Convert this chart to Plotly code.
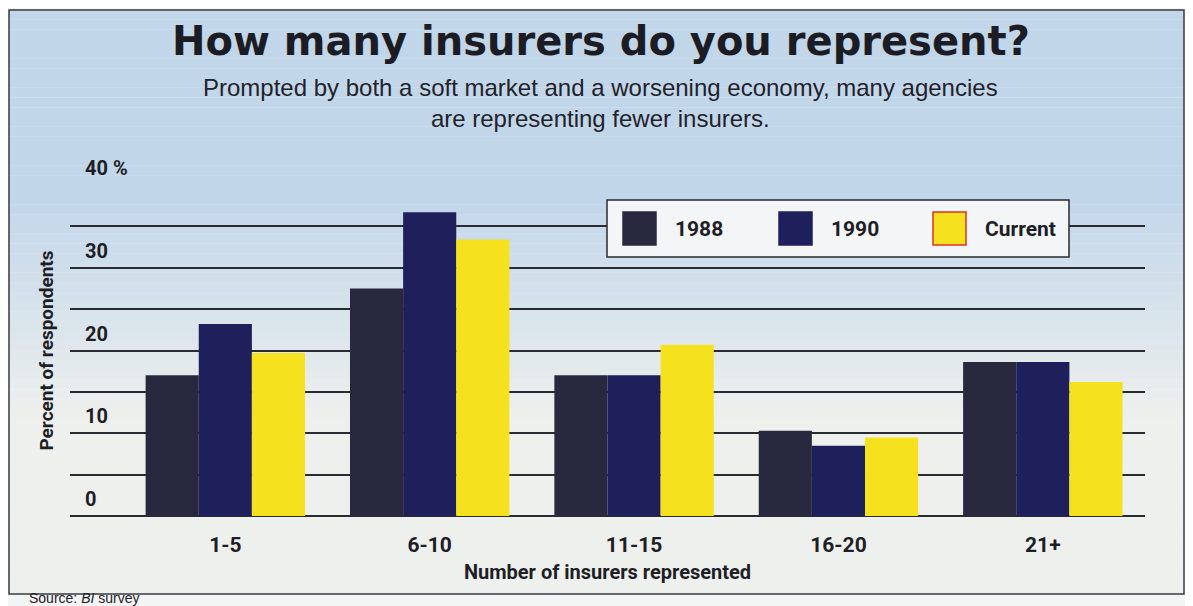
import plotly.graph_objects as go

categories = ["1-5", "6-10", "11-15", "16-20", "21+"]
series_names = ["1988", "1990", "Current"]
values_1988 = [17.0, 27.5, 17.0, 10.3, 18.6]
values_1990 = [23.2, 36.7, 17.0, 8.5, 18.6]
values_current = [19.7, 33.4, 20.7, 9.5, 16.2]
y_tick_values = [0, 10, 20, 30, 40]
y_tick_labels = ["0", "10", "20", "30", "40 %"]

colors = ["#28283f", "#1f1f5c", "#f6e11e"]

# the page adds an 8px body margin; figure is sized to fill the rest
OFF = 8
W, H = 1193 - OFF, 606 - OFF
L, R, T, B = 70 - OFF, 48, 185 - OFF, 90
PW, PH = W - L - R, H - T - B

def xp(px):
    return (px - OFF - L) / PW

def yp(py):
    return (H - B - (py - OFF)) / PH

COND = "Roboto, Liberation Sans, Arial, sans-serif"
INK = "#1e1e26"

fig = go.Figure()
for name, vals, col in zip(series_names, [values_1988, values_1990, values_current], colors):
    fig.add_trace(go.Bar(x=categories, y=vals, name=name, marker=dict(color=col, line=dict(width=0)),
                         showlegend=False))

shapes = []
# background gradient inside the frame
top_c = (194, 214, 234)
bot_c = (238, 240, 237)
fy0, fy1 = 10, 594
n = 60
for i in range(n):
    y0 = fy0 + (fy1 - fy0) * i / n
    y1 = fy0 + (fy1 - fy0) * (i + 1) / n
    ym = (y0 + y1) / 2
    t = min(max((ym - 200) / 220, 0), 1)
    c = tuple(int(round(a + (b - a) * t)) for a, b in zip(top_c, bot_c))
    shapes.append(dict(type="rect", xref="paper", yref="paper", layer="below",
                       x0=xp(9), x1=xp(1184), y0=yp(y1), y1=yp(y0) + 0.0005,
                       fillcolor="rgb(%d,%d,%d)" % c, line=dict(width=0)))
# frame
shapes.append(dict(type="rect", xref="paper", yref="paper", layer="below",
                   x0=xp(9), x1=xp(1184), y0=yp(594), y1=yp(10),
                   line=dict(color="#3a3a44", width=1.5), fillcolor="rgba(0,0,0,0)"))
# manual legend
shapes.append(dict(type="rect", xref="paper", yref="paper", layer="above",
                   x0=xp(607), x1=xp(1069), y0=yp(257), y1=yp(200),
                   fillcolor="#f3f5f7", line=dict(color="#2a2a33", width=1.5)))
legend_sq = [(623, 656), (779, 812), (933, 966)]
legend_tx = [673, 829, 983]
borders = ["#28283f", "#1f1f5c", "#e0302a"]
annotations = []
for (a, b), tx, col, bc, name in zip(legend_sq, legend_tx, colors, borders, series_names):
    shapes.append(dict(type="rect", xref="paper", yref="paper", layer="above",
                       x0=xp(a), x1=xp(b), y0=yp(245), y1=yp(212),
                       fillcolor=col, line=dict(color=bc, width=1.5)))
    annotations.append(dict(text="<b>%s</b>" % name, xref="paper", yref="paper", x=xp(tx), y=yp(229),
                            xanchor="left", yanchor="middle", showarrow=False,
                            font=dict(family=COND, size=21, color=INK)))

# y tick labels (above gridlines)
for v, lab in zip(y_tick_values, y_tick_labels):
    annotations.append(dict(text="<b>%s</b>" % lab, xref="paper", yref="y", x=xp(83), y=v,
                            xanchor="left", yanchor="bottom", yshift=3, showarrow=False,
                            font=dict(family=COND, size=20, color=INK)))

# title and subtitle
annotations.append(dict(text="<b>How many insurers do you represent?</b>", xref="paper", yref="paper",
                        x=xp(601), y=yp(41), xanchor="center", yanchor="middle", showarrow=False,
                        font=dict(family="DejaVu Sans, sans-serif", size=40, color="#1c1c24")))
annotations.append(dict(text="Prompted by both a soft market and a worsening economy, many agencies<br>are representing fewer insurers.",
                        xref="paper", yref="paper", x=xp(600), y=yp(103), xanchor="center", yanchor="middle",
                        showarrow=False, align="center",
                        font=dict(family="Liberation Sans, Arial, sans-serif", size=24, color="#22222a")))
annotations.append(dict(text="Source: <i>BI</i> survey", xref="paper", yref="paper", x=xp(27), y=yp(598),
                        xanchor="left", yanchor="middle", showarrow=False,
                        font=dict(family="Liberation Sans, Arial, sans-serif", size=14, color="#22222a")))

fig.update_layout(
    width=W, height=H, autosize=False,
    margin=dict(l=L, r=R, t=T, b=B, pad=0),
    paper_bgcolor="#f3f4f4", plot_bgcolor="rgba(0,0,0,0)",
    barmode="group", bargap=0.22, bargroupgap=0,
    shapes=shapes, annotations=annotations,
    xaxis=dict(range=[-0.76, 4.5], showgrid=False, zeroline=False, showline=False, ticks="",
               tickfont=dict(family=COND, size=21, color=INK, weight="bold"),
               ticklabelstandoff=14,
               title=dict(text="<b>Number of insurers represented</b>", standoff=8,
                          font=dict(family=COND, size=20, color=INK))),
    yaxis=dict(range=[0, 40], dtick=5, showgrid=True, gridcolor="#2a2a33", gridwidth=1.5,
               zeroline=True, zerolinecolor="#2a2a33", zerolinewidth=1.5,
               showticklabels=False, ticks="",
               title=dict(text="<b>Percent of respondents</b>", standoff=10,
                          font=dict(family=COND, size=19, color=INK))),
)

fig.write_html("out.html")
